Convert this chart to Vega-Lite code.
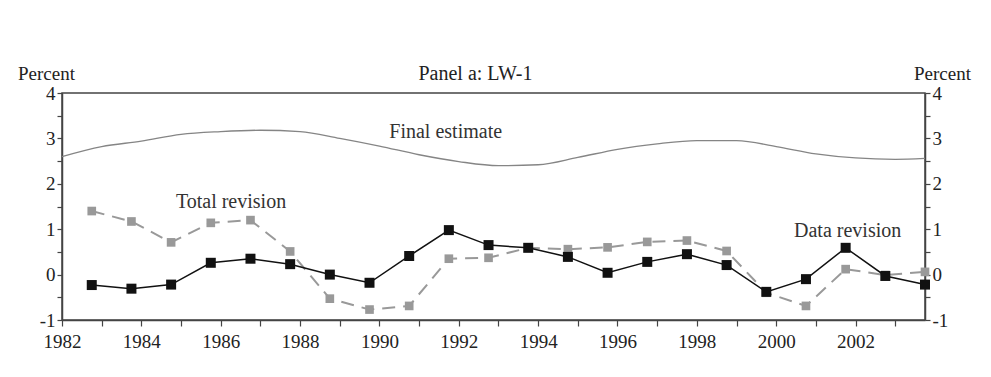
{
  "$schema": "https://vega.github.io/schema/vega-lite/v6.json",
  "width": 863,
  "height": 227,
  "autosize": "none",
  "padding": {"left": 62, "top": 93, "right": 66, "bottom": 57},
  "background": "white",
  "config": {
    "font": "Liberation Serif",
    "view": {"stroke": "#444", "strokeWidth": 1.5},
    "axis": {
      "domainColor": "#444", "domainWidth": 1.5, "tickColor": "#444", "tickWidth": 1.2,
      "labelFont": "Liberation Serif", "labelFontSize": 19, "labelColor": "#222", "labelFlush": false,
      "titleFont": "Liberation Serif", "titleFontSize": 19, "titleFontWeight": "normal", "titleColor": "#222",
      "grid": false
    }
  },
  "title": {"text": "Panel a: LW-1", "fontSize": 20, "fontWeight": "normal", "font": "Liberation Serif", "color": "#222", "dx": -18, "dy": 30, "offset": 10, "anchor": "middle"},
  "datasets": {
    "final": [
      {"year": 1982.0, "value": 2.60}, {"year": 1983.0, "value": 2.82}, {"year": 1984.0, "value": 2.94},
      {"year": 1985.0, "value": 3.09}, {"year": 1986.0, "value": 3.15}, {"year": 1987.0, "value": 3.18},
      {"year": 1988.0, "value": 3.15}, {"year": 1989.0, "value": 3.00}, {"year": 1990.0, "value": 2.83},
      {"year": 1991.0, "value": 2.64}, {"year": 1992.0, "value": 2.49}, {"year": 1993.0, "value": 2.40},
      {"year": 1994.0, "value": 2.42}, {"year": 1995.0, "value": 2.58}, {"year": 1996.0, "value": 2.76},
      {"year": 1997.0, "value": 2.88}, {"year": 1998.0, "value": 2.95}, {"year": 1999.0, "value": 2.95},
      {"year": 2000.0, "value": 2.82}, {"year": 2001.0, "value": 2.66}, {"year": 2002.0, "value": 2.57},
      {"year": 2003.0, "value": 2.54}, {"year": 2003.75, "value": 2.56}
    ],
    "rev": [
      {"year": 1982.75, "data": -0.23, "total": 1.40},
      {"year": 1983.75, "data": -0.31, "total": 1.17},
      {"year": 1984.75, "data": -0.22, "total": 0.71},
      {"year": 1985.75, "data": 0.26, "total": 1.14},
      {"year": 1986.75, "data": 0.35, "total": 1.20},
      {"year": 1987.75, "data": 0.23, "total": 0.51},
      {"year": 1988.75, "data": 0.00, "total": -0.53},
      {"year": 1989.75, "data": -0.18, "total": -0.77},
      {"year": 1990.75, "data": 0.41, "total": -0.69},
      {"year": 1991.75, "data": 0.98, "total": 0.35},
      {"year": 1992.75, "data": 0.65, "total": 0.37},
      {"year": 1993.75, "data": 0.59, "total": 0.59},
      {"year": 1994.75, "data": 0.39, "total": 0.56},
      {"year": 1995.75, "data": 0.04, "total": 0.60},
      {"year": 1996.75, "data": 0.28, "total": 0.72},
      {"year": 1997.75, "data": 0.45, "total": 0.75},
      {"year": 1998.75, "data": 0.21, "total": 0.52},
      {"year": 1999.75, "data": -0.38, "total": -0.40},
      {"year": 2000.75, "data": -0.10, "total": -0.69},
      {"year": 2001.75, "data": 0.59, "total": 0.12},
      {"year": 2002.75, "data": -0.03, "total": -0.01},
      {"year": 2003.75, "data": -0.22, "total": 0.06}
    ],
    "labels": [
      {"lx": 1991.67, "ly": 3.13, "label": "Final estimate"},
      {"lx": 1986.26, "ly": 1.59, "label": "Total revision"},
      {"lx": 2001.8, "ly": 0.97, "label": "Data revision"}
    ]
  },
  "layer": [
    {
      "mark": {"type": "rule", "color": "#444", "strokeWidth": 1.5},
      "encoding": {
        "y": {"datum": 0, "type": "quantitative", "scale": {"domain": [-1, 4], "nice": false, "zero": false}, "axis": null}
      }
    },
    {
      "data": {"name": "final"},
      "mark": {"type": "line", "color": "#858585", "strokeWidth": 1.3, "interpolate": "monotone"},
      "encoding": {
        "x": {"field": "year", "type": "quantitative", "scale": {"domain": [1982, 2003.75], "nice": false, "zero": false},
              "axis": {"title": null, "values": [1982,1983,1984,1985,1986,1987,1988,1989,1990,1991,1992,1993,1994,1995,1996,1997,1998,1999,2000,2001,2002,2003],
                       "labelExpr": "datum.value % 2 === 0 ? '' + datum.value : ''", "tickSize": 6, "labelPadding": 6, "labelFlush": false, "labelFont": "Liberation Serif"}},
        "y": {"field": "value", "type": "quantitative", "scale": {"domain": [-1, 4], "nice": false, "zero": false},
              "axis": {"orient": "left", "values": [-1,-0.5,0,0.5,1,1.5,2,2.5,3,3.5,4],
                       "labelExpr": "datum.value % 1 === 0 ? (datum.value < 0 ? '-' + abs(datum.value) : '' + datum.value) : ''",
                       "tickSize": 5, "labelPadding": 2, "labelFlush": false, "labelFont": "Liberation Serif",
                       "title": "Percent", "titleAngle": 0, "titleX": -16, "titleY": -20, "titleAlign": "center", "titleBaseline": "middle"}}
      }
    },
    {
      "data": {"name": "rev"},
      "mark": {"type": "line", "color": "#999999", "strokeWidth": 2, "strokeDash": [13, 8],
               "point": {"shape": "square", "filled": true, "size": 75, "color": "#999999"}},
      "encoding": {
        "x": {"field": "year", "type": "quantitative", "scale": {"domain": [1982, 2003.75], "nice": false, "zero": false}},
        "y": {"field": "total", "type": "quantitative", "scale": {"domain": [-1, 4], "nice": false, "zero": false}, "axis": null}
      }
    },
    {
      "data": {"name": "rev"},
      "mark": {"type": "line", "color": "#111111", "strokeWidth": 1.5,
               "point": {"shape": "square", "filled": true, "size": 100, "color": "#111111"}},
      "encoding": {
        "x": {"field": "year", "type": "quantitative", "scale": {"domain": [1982, 2003.75], "nice": false, "zero": false}},
        "y": {"field": "data", "type": "quantitative", "scale": {"domain": [-1, 4], "nice": false, "zero": false},
              "axis": {"orient": "right", "values": [-1,-0.5,0,0.5,1,1.5,2,2.5,3,3.5,4],
                       "labelExpr": "datum.value % 1 === 0 ? (datum.value < 0 ? '-' + abs(datum.value) : '' + datum.value) : ''",
                       "tickSize": 5, "labelPadding": 2, "labelFlush": false, "labelFont": "Liberation Serif",
                       "title": "Percent", "titleAngle": 0, "titleX": 17, "titleY": -20, "titleAlign": "center", "titleBaseline": "middle"}}
      }
    },
    {
      "data": {"name": "labels"},
      "mark": {"type": "text", "fontSize": 20, "color": "#333", "font": "Liberation Serif", "align": "center", "baseline": "middle"},
      "encoding": {
        "x": {"field": "lx", "type": "quantitative", "scale": {"domain": [1982, 2003.75], "nice": false, "zero": false}},
        "y": {"field": "ly", "type": "quantitative", "scale": {"domain": [-1, 4], "nice": false, "zero": false}, "axis": null},
        "text": {"field": "label"}
      }
    }
  ],
  "resolve": {"axis": {"y": "independent"}}
}
